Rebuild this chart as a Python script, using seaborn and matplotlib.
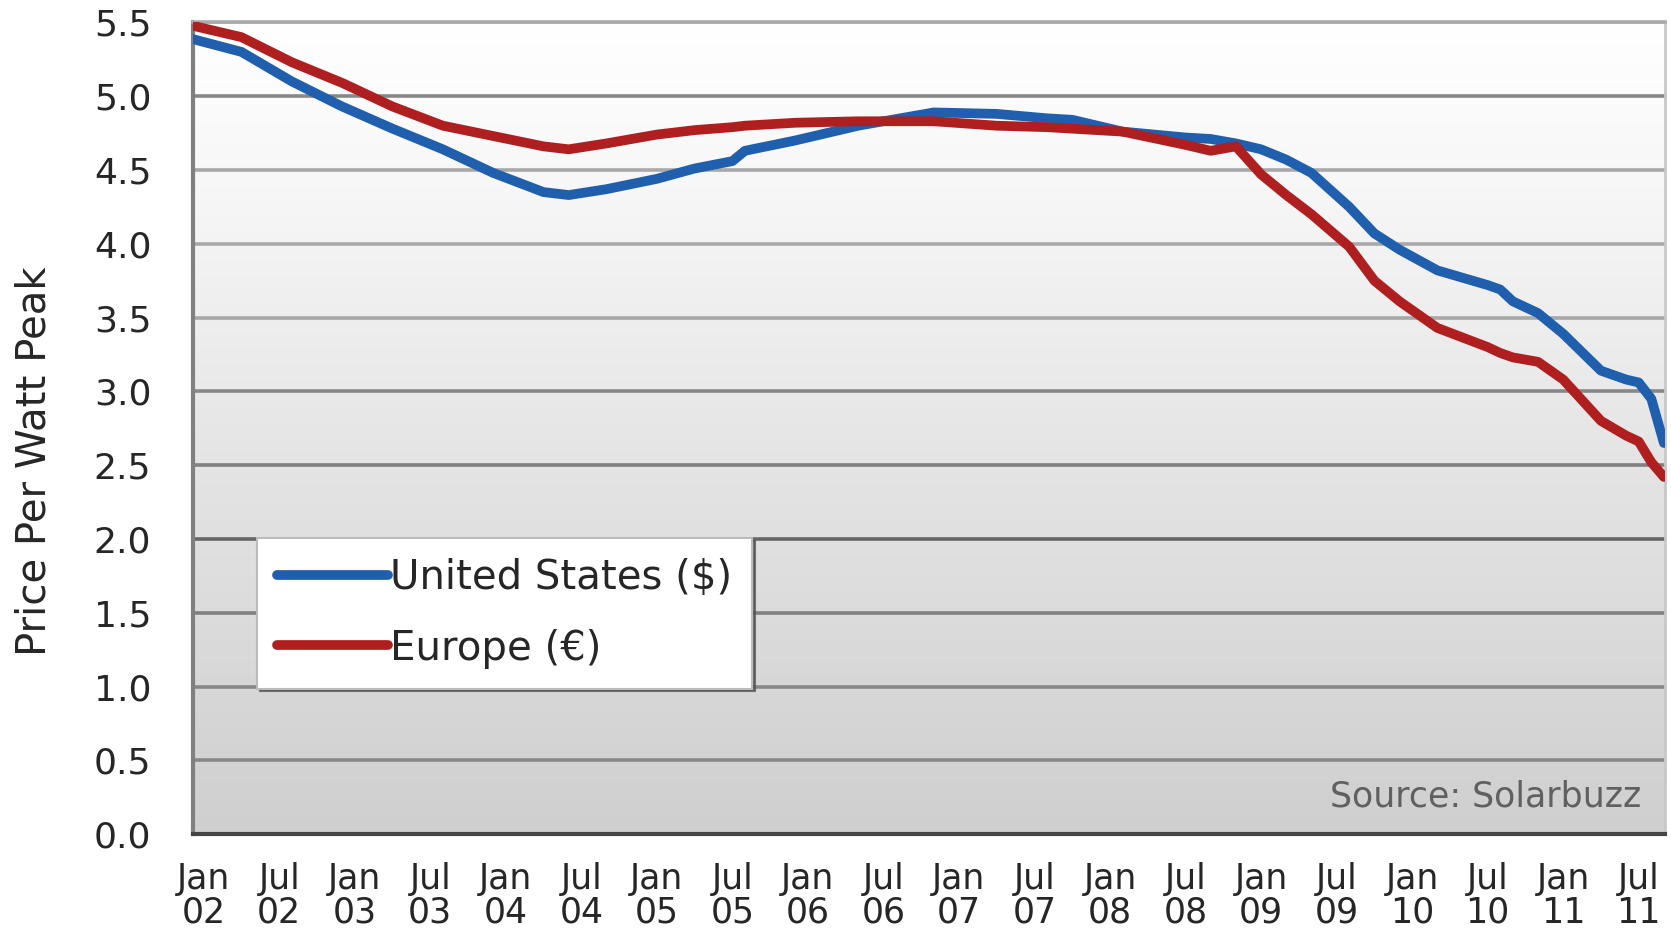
import numpy as np
import pandas as pd
import seaborn as sns
import matplotlib.pyplot as plt
from matplotlib.colors import LinearSegmentedColormap

# month index, 0 = Jan 2002
months = [-1, 3, 7, 11, 15, 19, 23, 27, 29, 32, 36, 39, 42, 43, 47, 52, 58, 63, 67, 69,
          73, 78, 80, 82, 84, 86, 88, 91, 93, 95, 98, 102, 103, 104, 106, 108, 111, 113,
          114, 115, 116]

us_price = [5.39, 5.30, 5.10, 4.93, 4.78, 4.64, 4.48, 4.35, 4.33, 4.37, 4.44, 4.51, 4.56,
            4.63, 4.70, 4.80, 4.89, 4.88, 4.85, 4.84, 4.76, 4.72, 4.71, 4.68, 4.64, 4.57,
            4.48, 4.25, 4.07, 3.96, 3.82, 3.72, 3.69, 3.61, 3.53, 3.39, 3.14, 3.08, 3.06,
            2.95, 2.65]

eu_price = [5.48, 5.40, 5.23, 5.09, 4.93, 4.80, 4.73, 4.66, 4.64, 4.68, 4.74, 4.77, 4.79,
            4.80, 4.82, 4.83, 4.83, 4.80, 4.79, 4.78, 4.76, 4.67, 4.63, 4.66, 4.47, 4.33,
            4.20, 3.98, 3.75, 3.61, 3.43, 3.30, 3.26, 3.23, 3.20, 3.08, 2.80, 2.70, 2.66,
            2.52, 2.42]

series_names = ['United States ($)', 'Europe (€)']
tick_months = list(range(0, 115, 6))
tick_labels = [('Jan' if m % 12 == 0 else 'Jul') + '\n' + '%02d' % (2 + m // 12) for m in tick_months]
y_ticks = [0.0, 0.5, 1.0, 1.5, 2.0, 2.5, 3.0, 3.5, 4.0, 4.5, 5.0, 5.5]

df = pd.DataFrame({
    'month': months * 2,
    'price': us_price + eu_price,
    'region': [series_names[0]] * len(months) + [series_names[1]] * len(months),
})

sns.set_style('white')
plt.rcParams['font.family'] = ['DejaVu Sans']

fig = plt.figure(figsize=(16.71, 9.33), dpi=100)
ax = fig.add_axes([0.1155, 0.106, 0.881, 0.870])

# grey gradient background
bg = LinearSegmentedColormap.from_list('bg', [(0, '#cfcfcf'), (0.45, '#e4e4e4'),
                                              (0.8, '#f7f7f7'), (1, '#ffffff')])
ax.imshow(np.linspace(0, 1, 256).reshape(-1, 1), cmap=bg, origin='lower',
          extent=[0, 1, 0, 1], transform=ax.transAxes, aspect='auto', zorder=0)

grid_cols = ['#808080', '#888888', '#888888', '#808080', '#666666', '#808080',
             '#888888', '#a8a8a8', '#a8a8a8', '#a8a8a8', '#888888', '#aaaaaa']
for v, c in zip(y_ticks[1:], grid_cols[1:]):
    ax.axhline(v, color=c, lw=2.6, zorder=1)

sns.lineplot(data=df, x='month', y='price', hue='region', palette=['#1f5fae', '#b01f1f'],
             linewidth=7, ax=ax, zorder=3, legend=True)

ax.set_xlim(-0.85, 116.1)
ax.set_ylim(0, 5.5)
ax.set_xticks(tick_months)
ax.set_xticklabels(tick_labels, fontsize=25, linespacing=1.0)
ax.set_yticks(y_ticks)
ax.set_yticklabels(['%.1f' % v for v in y_ticks], fontsize=26)
ax.tick_params(axis='y', length=0, pad=30)
ax.tick_params(axis='x', length=0, pad=20)
ax.set_xlabel('')
ax.set_ylabel('Price Per Watt Peak', fontsize=29)
ax.yaxis.set_label_coords(-0.094, 0.459)

ax.spines['left'].set_color('#808080')
ax.spines['left'].set_linewidth(3)
ax.spines['bottom'].set_color('#444444')
ax.spines['bottom'].set_linewidth(3)
ax.spines['right'].set_visible(True)
ax.spines['right'].set_color('#c8c8c8')
ax.spines['right'].set_linewidth(2)
ax.spines['top'].set_visible(True)
ax.spines['top'].set_color('#aaaaaa')
ax.spines['top'].set_linewidth(2.6)

ax.text(0.984, 0.046, 'Source: Solarbuzz', transform=ax.transAxes, ha='right', va='center',
        fontsize=25, color='#606060', zorder=4)

leg = ax.legend(loc='upper left', bbox_to_anchor=(0.0435, 0.3645), borderaxespad=0,
                fontsize=29, frameon=True, fancybox=False, shadow={'color': '#555555', 'alpha': 0.8},
                handlelength=2.75, handletextpad=0.05, labelspacing=0.75, borderpad=0.5,
                title=None)
leg.get_frame().set_facecolor('white')
leg.get_frame().set_edgecolor('#bbbbbb')
leg.get_frame().set_linewidth(1.5)
leg.get_frame().set_alpha(1)
for h in leg.legend_handles:
    h.set_linewidth(7)
leg.set_zorder(5)

fig.savefig('out.png', dpi=100)
